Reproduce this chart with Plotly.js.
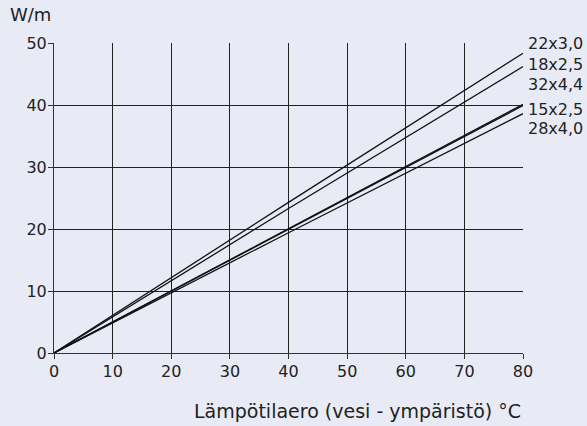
<!DOCTYPE html>
<html>
<head>
<meta charset="utf-8">
<script src="https://cdn.plot.ly/plotly-3.0.1.min.js"></script>
<style>html,body{margin:0;padding:0;background:#e8ebf6;}</style>
</head>
<body>
<div id="chart" style="width:587px;height:426px;"></div>
<script>
// Temperature difference (°C) at which values were read
const xValues = [0, 40, 80];
// Heat loss W/m per pipe size
const seriesNames = ["22x3,0", "18x2,5", "32x4,4", "15x2,5", "28x4,0"];
const s22x30 = [0, 24.3, 48.35];
const s18x25 = [0, 23.3, 46.2];
const s32x44 = [0, 20.1, 40.1];
const s15x25 = [0, 20.0, 39.9];
const s28x40 = [0, 19.4, 38.6];
const seriesValues = [s22x30, s18x25, s32x44, s15x25, s28x40];
// Label vertical positions (data units of the y axis)
const labelY = [49.9, 46.5, 43.3, 39.3, 36.2];
const xTicks = [0, 10, 20, 30, 40, 50, 60, 70, 80];
const yTicks = [0, 10, 20, 30, 40, 50];
const xTitle = "Lämpötilaero (vesi - ympäristö) °C";
const yTitle = "W/m";

const FONT = "DejaVu Sans, sans-serif";
const traces = seriesValues.map((vals, i) => ({
  x: xValues, y: vals, type: "scatter", mode: "lines",
  name: seriesNames[i], line: {color: "#111", width: 1.3}, hoverinfo: "skip"
}));

const annotations = seriesNames.map((n, i) => ({
  text: n, xref: "paper", yref: "y", x: 1, y: labelY[i],
  xanchor: "left", yanchor: "middle", xshift: 3, showarrow: false,
  font: {family: FONT, size: 16, color: "#222"}
}));
annotations.push({
  text: yTitle, xref: "paper", yref: "paper", x: 0, y: 1, xshift: -46, yshift: 29,
  xanchor: "left", yanchor: "middle", showarrow: false,
  font: {family: FONT, size: 18, color: "#222"}
});
annotations.push({
  text: xTitle, xref: "paper", yref: "paper", x: 1, y: 0, yshift: -45,
  xanchor: "right", yanchor: "top", showarrow: false,
  font: {family: FONT, size: 19, color: "#222"}
});

const layout = {
  width: 587, height: 426,
  margin: {l: 54, r: 64, t: 43, b: 73, pad: 0},
  paper_bgcolor: "#e8ebf6", plot_bgcolor: "#e8ebf6",
  showlegend: false,
  font: {family: FONT, size: 16, color: "#222"},
  xaxis: {
    range: [0, 80], tickvals: xTicks, ticks: "outside", ticklen: 5, tickcolor: "#333",
    ticklabelstandoff: -1,
    showgrid: true, gridcolor: "#222", gridwidth: 1, zeroline: false,
    showline: true, linecolor: "#333", linewidth: 1, mirror: false, fixedrange: true
  },
  yaxis: {
    range: [0, 50], tickvals: yTicks, ticks: "outside", ticklen: 5, tickcolor: "#333",
    ticklabelstandoff: -2,
    showgrid: true, gridcolor: "#222", gridwidth: 1, zeroline: false,
    showline: true, linecolor: "#333", linewidth: 1, fixedrange: true
  },
  annotations: annotations
};
Plotly.newPlot("chart", traces, layout, {staticPlot: true, displayModeBar: false});
</script>
</body>
</html>
